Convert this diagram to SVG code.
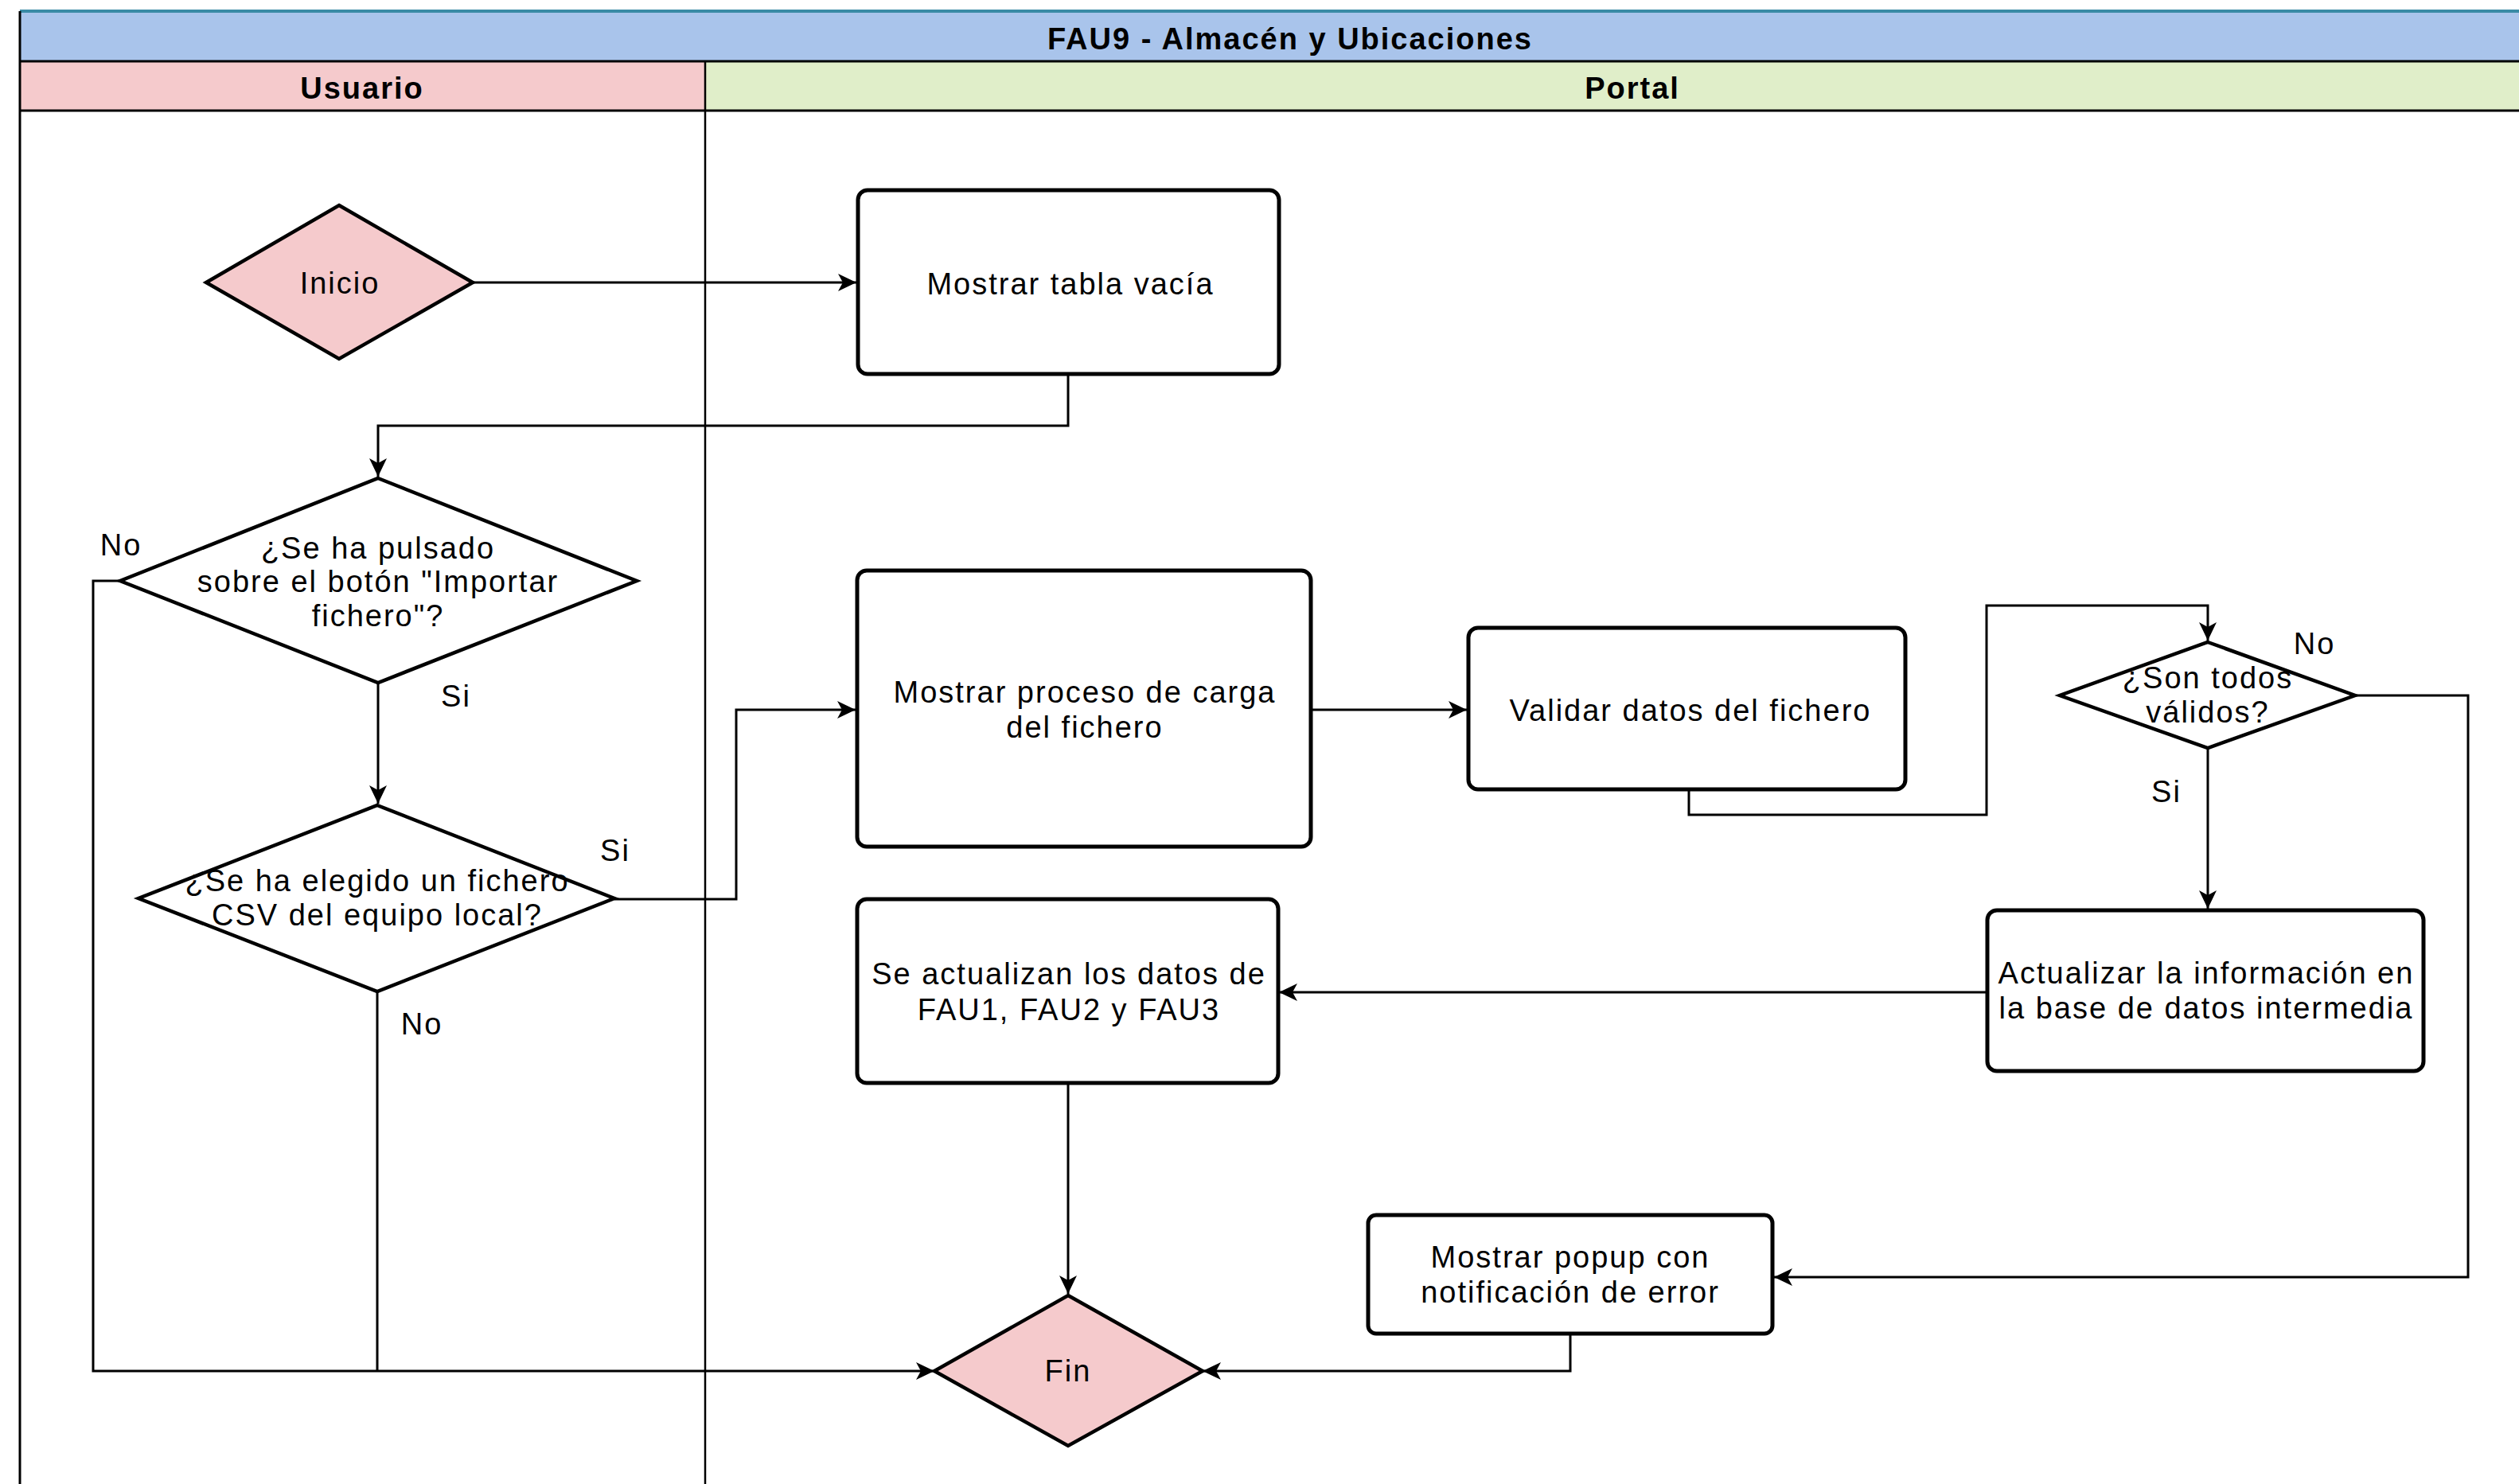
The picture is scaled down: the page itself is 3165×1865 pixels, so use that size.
<svg xmlns="http://www.w3.org/2000/svg" width="3165" height="1865" viewBox="0 0 3165 1865">
<style>
.t{font-family:"Liberation Sans",Arial,sans-serif;font-size:38px;letter-spacing:2px;fill:#000;text-anchor:middle}
.b{font-weight:bold}
.box{fill:#fff;stroke:#000;stroke-width:5}
.dia{fill:#fff;stroke:#000;stroke-width:4.5;stroke-linejoin:miter}
.term{fill:#F5CACC;stroke:#000;stroke-width:4.5}
.c{fill:none;stroke:#000;stroke-width:3}
.a{marker-end:url(#arr)}
.lane{fill:none;stroke:#000;stroke-width:3}
</style>
<defs>
<marker id="arr" markerUnits="userSpaceOnUse" markerWidth="26" markerHeight="26" viewBox="0 0 26 26" refX="24" refY="13" orient="auto">
<path d="M1,2 L24,13 L1,24 L7,13 Z" fill="#000"/>
</marker>
</defs>
<rect width="3165" height="1865" fill="#fff"/>
<g id="pool">
<rect x="25" y="14" width="3160" height="63" fill="#A9C4EB"/>
<rect x="25" y="77" width="861" height="62" fill="#F5CACC"/>
<rect x="886" y="77" width="2300" height="62" fill="#E0EEC9"/>
<line x1="25" y1="14" x2="3165" y2="14" stroke="#3A8BA5" stroke-width="4"/>
<line x1="25" y1="77" x2="3165" y2="77" class="lane"/>
<line x1="25" y1="139" x2="3165" y2="139" class="lane"/>
<line x1="25" y1="14" x2="25" y2="1865" class="lane"/>
<line x1="886" y1="77" x2="886" y2="1865" stroke="#000" stroke-width="2.5"/>
<text class="t b" x="1621" y="62">FAU9 - Almacén y Ubicaciones</text>
<text class="t b" x="455" y="124">Usuario</text>
<text class="t b" x="2051" y="124">Portal</text>
</g>
<g id="connectors">
<path class="c a" d="M594,355 H1076"/>
<path class="c a" d="M1342,470 V535 H475 V599"/>
<path class="c a" d="M475,858 V1010"/>
<path class="c a" d="M151,730 H117 V1723 H1174"/>
<path class="c" d="M474,1246 V1723"/>
<path class="c a" d="M772,1130 H925 V892 H1075"/>
<path class="c a" d="M1647,892 H1843"/>
<path class="c a" d="M2122,993 V1024 H2496 V761 H2774 V805"/>
<path class="c a" d="M2774,940 V1142"/>
<path class="c a" d="M2959,874 H3101 V1605 H2229"/>
<path class="c a" d="M2497,1247 H1607"/>
<path class="c a" d="M1342,1361 V1626"/>
<path class="c a" d="M1973,1676 V1723 H1511"/>
<text class="t" x="152" y="698">No</text>
<text class="t" x="573" y="888">Si</text>
<text class="t" x="773" y="1082">Si</text>
<text class="t" x="530" y="1300">No</text>
<text class="t" x="2908" y="822">No</text>
<text class="t" x="2722" y="1008">Si</text>
</g>
<g id="inicio">
<polygon class="term" points="426,258 594,355 426,451 259,355"/>
<text class="t" x="427" y="369">Inicio</text>
</g>
<g id="mostrar-tabla">
<rect class="box" x="1078" y="239" width="529" height="231" rx="12"/>
<text class="t" x="1345" y="370">Mostrar tabla vacía</text>
</g>
<g id="decision-importar">
<polygon class="dia" points="475,601 800,730 475,858 151,730"/>
<text class="t" x="475" y="702">¿Se ha pulsado</text>
<text class="t" x="475" y="744">sobre el botón "Importar</text>
<text class="t" x="475" y="787">fichero"?</text>
</g>
<g id="decision-csv">
<polygon class="dia" points="474,1012 772,1129 474,1246 174,1129"/>
<text class="t" x="474" y="1120">¿Se ha elegido un fichero</text>
<text class="t" x="474" y="1163">CSV del equipo local?</text>
</g>
<g id="proceso-carga">
<rect class="box" x="1077" y="717" width="570" height="347" rx="12"/>
<text class="t" x="1363" y="883">Mostrar proceso de carga</text>
<text class="t" x="1363" y="927">del fichero</text>
</g>
<g id="validar">
<rect class="box" x="1845" y="789" width="549" height="203" rx="12"/>
<text class="t" x="2124" y="906">Validar datos del fichero</text>
</g>
<g id="decision-validos">
<polygon class="dia" points="2774,807 2959,874 2774,940 2588,874"/>
<text class="t" x="2774" y="865">¿Son todos</text>
<text class="t" x="2774" y="908">válidos?</text>
</g>
<g id="actualizar-bd">
<rect class="box" x="2497" y="1144" width="548" height="202" rx="12"/>
<text class="t" x="2772" y="1236">Actualizar la información en</text>
<text class="t" x="2772" y="1280">la base de datos intermedia</text>
</g>
<g id="actualizar-fau">
<rect class="box" x="1077" y="1130" width="529" height="231" rx="12"/>
<text class="t" x="1343" y="1237">Se actualizan los datos de</text>
<text class="t" x="1343" y="1282">FAU1, FAU2 y FAU3</text>
</g>
<g id="popup-error">
<rect class="box" x="1719" y="1527" width="508" height="149" rx="10"/>
<text class="t" x="1973" y="1593">Mostrar popup con</text>
<text class="t" x="1973" y="1637">notificación de error</text>
</g>
<g id="fin">
<polygon class="term" points="1342,1628 1511,1723 1342,1817 1174,1723"/>
<text class="t" x="1342" y="1736">Fin</text>
</g>
</svg>
